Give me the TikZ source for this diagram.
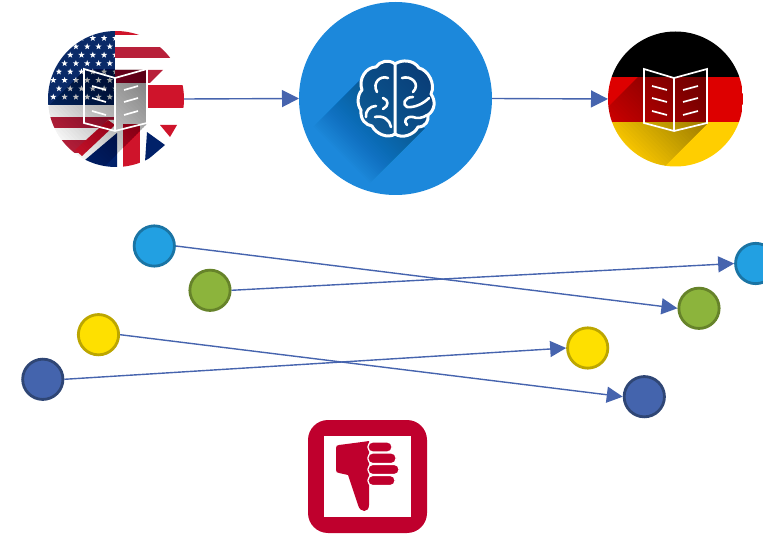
\documentclass[tikz,border=0pt]{standalone}
\usetikzlibrary{arrows.meta,shapes.geometric}
\definecolor{linkblue}{HTML}{4664AE}
\definecolor{dotblue}{HTML}{22A0E2}
\definecolor{dotblueE}{HTML}{1A74A4}
\definecolor{dotgreen}{HTML}{8CB43C}
\definecolor{dotgreenE}{HTML}{66832A}
\definecolor{dotyellow}{HTML}{FEE000}
\definecolor{dotyellowE}{HTML}{BCA600}
\definecolor{dotnavy}{HTML}{4464AD}
\definecolor{dotnavyE}{HTML}{2F4675}
\definecolor{brainblue}{HTML}{1C88DB}
\definecolor{brainshade}{HTML}{0A3358}
\definecolor{thumbred}{HTML}{BF002D}
\definecolor{usred}{HTML}{B8203A}
\definecolor{usnavy}{HTML}{0A2A68}
\definecolor{ukblue}{HTML}{012169}
\definecolor{ukred}{HTML}{CF142B}
\definecolor{degold}{HTML}{FFCE00}
\definecolor{dered}{HTML}{DD0000}
\tikzset{
  dotnode/.style={circle,minimum size=40.3pt,inner sep=0pt,line width=2.8pt},
  bigdisc/.style={circle,inner sep=0pt,outer sep=0pt},
  link/.style={draw=linkblue,line width=1.4pt,-{Triangle[length=17pt,width=17pt]}},
  thinlink/.style={draw=linkblue,line width=1.4pt,-{Triangle[length=16pt,width=16pt]}},
  bookline/.style={draw=white,line width=1.7pt,line join=miter},
  brainline/.style={draw=white,line width=3pt,line cap=round,line join=round},
  fingerbar/.style={fill=thumbred,draw=white,line width=1.3pt,rounded corners=4.5pt},
  usstar/.style={star,star points=5,star point ratio=2.4,fill=white,minimum size=6.5pt,inner sep=0pt},
}
% layered long shadow in rotated coordinates u=x-y, v=x+y
\newcommand{\longshade}[7]{%
  \foreach \i in {1,...,#5}{%
    \pgfmathsetmacro\uu{#3+(#4-#3)*\i/#5}%
    \fill[#7,opacity=#6] ({(\uu+#1)/2},{(#1-\uu)/2}) -- ({(\uu+#2)/2},{(#2-\uu)/2}) -- ({(#4+#2)/2},{(#2-#4)/2}) -- ({(#4+#1)/2},{(#1-#4)/2}) -- cycle;%
  }%
}
\newcommand{\brainoutline}{(395,64) .. controls (389,59) and (380,61) .. (376,67) .. controls (366,67) and (358,79) .. (362,90) .. controls (357,95) and (357,105) .. (361,110) .. controls (360,120) and (366,125) .. (372,126) .. controls (376,134) and (388,139) .. (395,134) .. controls (402,139) and (414,135) .. (418,127) .. controls (426,127) and (429,120) .. (428,115) .. controls (435,110) and (436,101) .. (431,94) .. controls (436,84) and (428,70) .. (419,68) .. controls (414,60) and (402,59) .. (395,64) -- cycle}
\begin{document}
\begin{tikzpicture}[x=1pt,y=-1pt]
\useasboundingbox (0,0) rectangle (763,534);
\node[bigdisc,minimum size=136pt] (src) at (116,99) {};
\node[bigdisc,minimum size=193pt,fill=brainblue] (mid) at (395.5,98.5) {};
\node[bigdisc,minimum size=135pt] (dst) at (675.5,99) {};
% --- US/UK flag disc
\begin{scope}
\clip (116,99) circle (68);
\fill[white] (48,30) rectangle (184,168);
\fill[usnavy] (48,30) rectangle (115,105);
\fill[usred] (48,117) rectangle (115,128);
\fill[usred] (48,140) rectangle (115,153);
\foreach \r in {0,...,7}{
  \foreach \c in {0,...,5}{
    \pgfmathsetmacro\sx{53.3+\c*11.3+mod(\r,2)*5.6}
    \pgfmathsetmacro\sy{97-\r*8.4}
    \node[usstar] (st\r\c) at (\sx,\sy) {};
  }
}
\fill[ukred] (115,30) rectangle (184,35);
\fill[usred] (115,47) rectangle (184,58);
\fill[usred] (115,70) -- (163,70) -- (150,83) -- (115,83) -- cycle;
\fill[ukred] (147,85) rectangle (184,108);
\fill[white] (78,156) -- (85,168) -- (95,168) -- (117,140) -- (117,120) -- (108,120) -- cycle;
\fill[ukblue] (85,160) -- (117,133) -- (117,168) -- (90,168) -- cycle;
\fill[ukred] (75,150) -- (82,156) -- (115,125) -- (108,120) -- cycle;
\fill[ukred] (123,124) rectangle (140,168);
\fill[ukblue] (147,132) -- (165,145) -- (145,162) -- cycle;
\fill[ukred] (160,125) -- (177,125) -- (170,137) -- cycle;
\begin{scope}[shift={(-560,0)}]
  \clip (645,70) -- (707,70) -- (707,124) -- (607,224) -- (545,170) -- cycle;
  \longshade{713}{831}{470}{640}{40}{0.016}{black}
\end{scope}
\end{scope}
\draw[bookline] (84,69) -- (115,78) -- (147,69) -- (147,123) -- (115,131) -- (84,123) -- cycle (115,78) -- (115,131);
\foreach \yy in {88,100,113}{
  \draw[bookline] (92,\yy-2) -- (106,\yy+2);
  \draw[bookline] (124,\yy+2) -- (138,\yy-2);
}
% --- brain disc
\begin{scope}
\clip (395.5,98.5) circle (96.5);
\longshade{440}{553}{184}{296}{40}{0.016}{brainshade}
\begin{scope}
  \clip \brainoutline;
  \fill[brainblue!45!brainshade] (350,50) rectangle (440,145);
  \longshade{420}{580}{240}{360}{30}{0.014}{brainshade}
\end{scope}
\end{scope}
\draw[brainline] \brainoutline (395,64) -- (395,134);
\draw[brainline,line width=2.6pt]
  (388,78) .. controls (380,75) and (372,83) .. (377,92)
  (383,98) .. controls (389,100) and (389,106) .. (383,109)
  (376,106) .. controls (370,106) and (365,111) .. (366,117)
  (375,117) .. controls (383,115) and (390,120) .. (391,127)
  (402,78) .. controls (411,75) and (421,84) .. (413,92)
  (413,97) .. controls (404,97) and (402,105) .. (407,107) .. controls (414,108) and (423,104) .. (429,98)
  (413,117) .. controls (406,116) and (403,121) .. (407,125)
  (413,117) .. controls (417,119) and (423,118) .. (427,115);
% --- German disc
\begin{scope}
\clip (675.5,99) circle (67.5);
\fill[black] (608,31) rectangle (743,77);
\fill[dered] (608,77) rectangle (743,122);
\fill[degold] (608,122) rectangle (743,167);
\begin{scope}
  \clip (645,70) -- (707,70) -- (707,124) -- (607,224) -- (545,170) -- cycle;
  \longshade{713}{831}{470}{640}{40}{0.016}{black}
\end{scope}
\end{scope}
\draw[bookline] (644,69) -- (674,78) -- (707,69) -- (707,123) -- (674,131) -- (644,123) -- cycle (674,78) -- (674,131);
\foreach \yy in {88,100,113}{
  \draw[bookline] (652,\yy-2) -- (667,\yy+2);
  \draw[bookline] (683,\yy+2) -- (698,\yy-2);
}
% --- connectors top
\draw[link] (src.east) -- (mid.west);
\draw[link] (mid.east) -- (dst.west);
% --- dots
\node[dotnode,fill=dotblue,draw=dotblueE] (a1) at (154.3,246) {};
\node[dotnode,fill=dotgreen,draw=dotgreenE] (b1) at (210,290.3) {};
\node[dotnode,fill=dotyellow,draw=dotyellowE] (c1) at (98.5,334.7) {};
\node[dotnode,fill=dotnavy,draw=dotnavyE] (d1) at (42.8,379.3) {};
\node[dotnode,fill=dotblue,draw=dotblueE] (a2) at (755.7,263.5) {};
\node[dotnode,fill=dotgreen,draw=dotgreenE] (b2) at (699,308.3) {};
\node[dotnode,fill=dotyellow,draw=dotyellowE] (c2) at (587.7,348) {};
\node[dotnode,fill=dotnavy,draw=dotnavyE] (d2) at (644.3,396.7) {};
\draw[thinlink] (a1.east) -- (b2.west);
\draw[thinlink] (b1.east) -- (a2.west);
\draw[thinlink] (c1.east) -- (d2.west);
\draw[thinlink] (d1.east) -- (c2.west);
% --- thumb down
\node[fill=thumbred,rounded corners=20pt,minimum width=119pt,minimum height=113pt,inner sep=0pt] (thumb) at (367.5,476.5) {};
\node[fill=white,minimum width=87pt,minimum height=81pt,inner sep=0pt] (window) at (thumb.center) {};
\fill[thumbred] (339,445) -- (362,442) -- (369,441) -- (369,505)
  .. controls (369,513) and (360,513) .. (358,505) -- (348,475) -- (339,473)
  .. controls (337,473) and (336,472) .. (336,470) -- (336,448) .. controls (336,446) and (337,445) .. (339,445) -- cycle;
\draw[fingerbar] (368,442) rectangle (392,452);
\draw[fingerbar] (368,453) rectangle (396,463.5);
\draw[fingerbar] (368,464.5) rectangle (399,474.5);
\draw[fingerbar] (368,475.5) rectangle (395,485.5);
\end{tikzpicture}
\end{document}
